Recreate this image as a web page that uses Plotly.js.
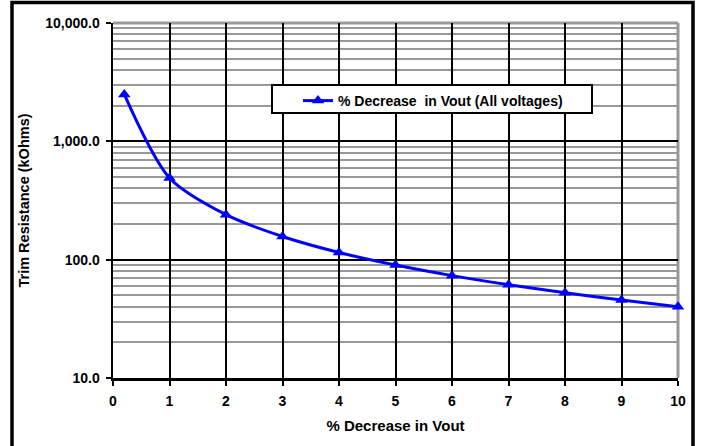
<!DOCTYPE html>
<html>
<head>
<meta charset="utf-8">
<script src="https://cdn.plot.ly/plotly-2.35.2.min.js"></script>
<style>html,body{margin:0;padding:0;background:#fff;}#chart{width:702px;height:446px;}</style>
</head>
<body>
<div id="chart"></div>
<script>
const decreasePct = [0.2, 1, 2, 3, 4, 5, 6, 7, 8, 9, 10];
const trimKOhms = [2490, 490, 240, 157, 115, 90, 73.3, 61.4, 52.5, 45.6, 40];
const seriesName = '% Decrease  in Vout (All voltages)';
const xTicks = [0, 1, 2, 3, 4, 5, 6, 7, 8, 9, 10];
const yTicks = [10, 100, 1000, 10000];
const yTickText = ['10.0', '100.0', '1,000.0', '10,000.0'];

const FONT = 'Liberation Sans, Arial, sans-serif';
const W = 702, H = 446;
const L = 113, R = 678, T = 23, B = 378;
const px = v => (v - L) / (R - L);
const py = v => (B - v) / (B - T);

const trace = {
  x: decreasePct, y: trimKOhms, name: seriesName,
  type: 'scatter', mode: 'lines+markers',
  line: {color: '#0000FF', width: 3, shape: 'spline', smoothing: 0.8},
  marker: {symbol: 'triangle-up', size: 11, color: '#0000FF'},
  cliponaxis: false
};

const layout = {
  width: W, height: H,
  margin: {l: L, r: W - R, t: T, b: H - B},
  paper_bgcolor: '#fff', plot_bgcolor: '#fff',
  font: {family: FONT, size: 14, color: '#000'},
  showlegend: true,
  legend: {
    x: px(298), y: py(85), xanchor: 'left', yanchor: 'top',
    bgcolor: 'rgba(0,0,0,0)', borderwidth: 0,
    font: {family: FONT, size: 14, color: '#000', weight: 'bold'}
  },
  xaxis: {
    range: [0, 10], tickvals: xTicks, ticktext: xTicks.map(String),
    showgrid: true, gridcolor: '#000', gridwidth: 2,
    showline: true, linecolor: '#000', linewidth: 2.5,
    ticks: 'outside', ticklen: 5, tickwidth: 2, tickcolor: '#000',
    ticklabelstandoff: 4,
    zeroline: false,
    tickfont: {family: FONT, size: 14, weight: 'bold'},
    title: {text: '% Decrease in Vout', font: {family: FONT, size: 15, weight: 'bold'}, standoff: 12}
  },
  yaxis: {
    type: 'log', range: [1, 4], tickvals: yTicks, ticktext: yTickText,
    showgrid: true, gridcolor: '#000', gridwidth: 2,
    minor: {dtick: 'D1', showgrid: true, gridcolor: '#999', gridwidth: 2, ticks: ''},
    showline: true, linecolor: '#000', linewidth: 2.5,
    ticks: 'outside', ticklen: 5, tickwidth: 2, tickcolor: '#000',
    ticklabelstandoff: 3,
    zeroline: false,
    tickfont: {family: FONT, size: 14, weight: 'bold'},
    title: {text: 'Trim Resistance (kOhms)', font: {family: FONT, size: 14.5, weight: 'bold'}, standoff: 12}
  },
  shapes: [
    {type: 'line', xref: 'paper', yref: 'paper', x0: 1, x1: 1, y0: 0, y1: 1, line: {color: '#999', width: 3}, layer: 'below'},
    {type: 'line', xref: 'paper', yref: 'paper', x0: 0, x1: 1, y0: 1, y1: 1, line: {color: '#999', width: 3}, layer: 'below'},
    {type: 'rect', xref: 'paper', yref: 'paper', x0: px(272), x1: px(592), y0: py(113), y1: py(85), line: {color: '#000', width: 2}, fillcolor: '#fff', layer: 'above'},
    {type: 'rect', xref: 'paper', yref: 'paper', x0: px(12), x1: px(693), y0: py(452), y1: py(2.5), line: {color: '#000', width: 3.5}, fillcolor: 'rgba(0,0,0,0)', layer: 'above'}
  ]
};

Plotly.newPlot('chart', [trace], layout, {displayModeBar: false, staticPlot: true});
</script>
</body>
</html>
